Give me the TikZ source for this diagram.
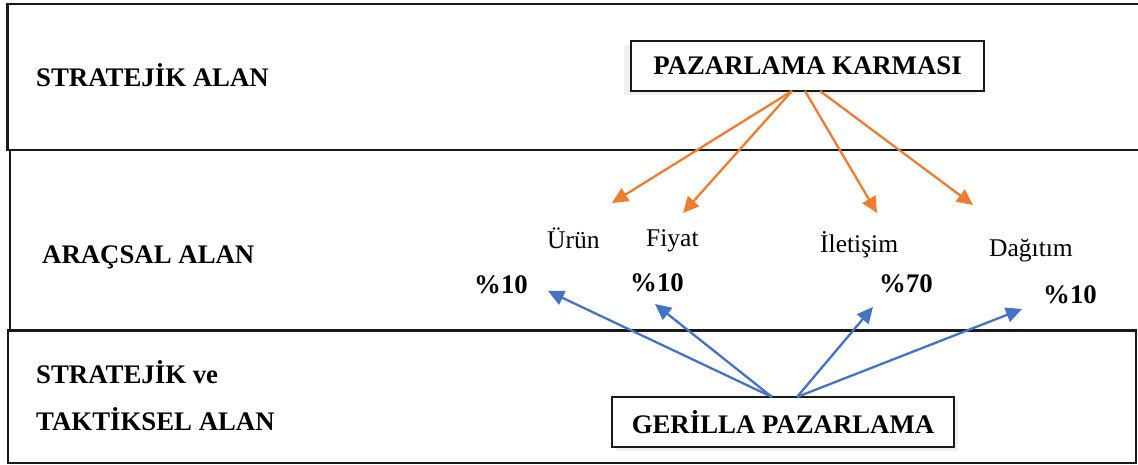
\documentclass[tikz,border=0pt]{standalone}
\usepackage{fontspec}
\setmainfont{Liberation Serif}
\usetikzlibrary{arrows.meta,shadows}
\definecolor{orng}{HTML}{ED7D31}
\definecolor{blu}{HTML}{4472C4}
\begin{document}
\begin{tikzpicture}[x=1pt,y=-1pt,
  lbl/.style={anchor=base west,inner sep=0pt,font=\fontsize{26.8}{32}\selectfont\bfseries},
  item/.style={anchor=base west,inner sep=0pt,font=\fontsize{25.5}{30}\selectfont},
  area/.style={line width=2.4pt,draw=black!90},
  mixbox/.style={draw=black!90,line width=1.5pt,fill=white,inner sep=0pt,
    font=\fontsize{26.8}{32}\selectfont\bfseries},
  oarr/.style={draw=orng,line width=2.3pt,-{Triangle[length=16pt,width=15pt]}},
  barr/.style={draw=blu,line width=2.3pt,-{Triangle[length=16pt,width=15pt]}}]
\useasboundingbox (0,0) rectangle (1138,465);
% area frames
\draw[area] (1138,4) -- (7.5,4) -- (7.5,150) -- (1138,150);
\draw[area] (10,150) -- (10,330.5);
\draw[area] (8,330.5) rectangle (1136,463);
% area labels
\node[lbl] (sa) at (36,87) {STRATEJİK ALAN};
\node[lbl] (aa) at (42,263) {ARAÇSAL ALAN};
\node[lbl] (st1) at (36,383) {STRATEJİK ve};
\node[lbl] (st2) at (36,430) {TAKTİKSEL ALAN};
% main boxes
\node[mixbox,minimum width=353pt,minimum height=50pt,
  drop shadow={opacity=0.12,shadow xshift=-7pt,shadow yshift=-4pt}] (pk) at (807.5,66) {PAZARLAMA KARMASI};
\node[mixbox,minimum width=342pt,minimum height=50pt,
  drop shadow={opacity=0.12,shadow xshift=4pt,shadow yshift=-4pt}] (gp) at (783,422) {GERİLLA PAZARLAMA};
% items
\node[item] (urun) at (547,248) {Ürün};
\node[item] (fiyat) at (646,247) {Fiyat};
\node[item] (ilet) at (820,253) {İletişim};
\node[item] (dag) at (989,256) {Dağıtım};
\node[lbl] (p1) at (474,293) {\%10};
\node[lbl] (p2) at (630,291) {\%10};
\node[lbl] (p3) at (879,292) {\%70};
\node[lbl] (p4) at (1043,303) {\%10};
% connector ends
\coordinate (oa) at (792,91);
\coordinate (ob) at (805,91);
\coordinate (oc) at (820,91);
\coordinate (tu) at (612,203);
\coordinate (tf) at (683,213);
\coordinate (ti) at (877,213);
\coordinate (td) at (973,205);
\coordinate (ba) at (772,397);
\coordinate (bb) at (797,397);
\coordinate (t1) at (548,291);
\coordinate (t2) at (655,304);
\coordinate (t3) at (873,307);
\coordinate (t4) at (1022,309);
% orange arrows
\draw[oarr] (oa) -- (tu);
\draw[oarr] (oa) -- (tf);
\draw[oarr] (ob) -- (ti);
\draw[oarr] (oc) -- (td);
% blue arrows
\draw[barr] (ba) -- (t1);
\draw[barr] (ba) -- (t2);
\draw[barr] (bb) -- (t3);
\draw[barr] (bb) -- (t4);
\end{tikzpicture}
\end{document}
